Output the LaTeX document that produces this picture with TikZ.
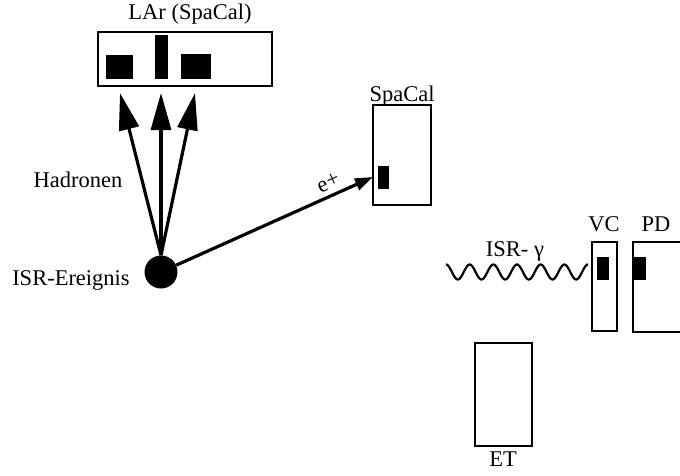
\documentclass[tikz,border=0pt]{standalone}
\usepackage{fontspec}
\setmainfont{Liberation Serif}
\usetikzlibrary{arrows.meta}
\begin{document}
\begin{tikzpicture}[x=1pt,y=-1pt,
  lbl/.style={font=\fontsize{22.5}{26}\selectfont, inner sep=0pt, anchor=base},
  box/.style={draw, line width=1.6pt, rectangle, inner sep=0pt},
  blk/.style={fill=black, rectangle, inner sep=0pt},
  bigarrow/.style={line width=3.2pt, -{Triangle[length=37pt,width=20pt]}},
  smallarrow/.style={line width=3.2pt, -{Triangle[length=18pt,width=12pt]}}]
\useasboundingbox (0,0) rectangle (680,475);
\clip (0,0) rectangle (680,475);
% LAr
\node[box, minimum width=174pt, minimum height=54pt] (lar) at (185,59) {};
\node[blk, minimum width=27pt, minimum height=24pt] (l1) at (119.5,67) {};
\node[blk, minimum width=13pt, minimum height=44pt] (l2) at (161.5,57) {};
\node[blk, minimum width=30pt, minimum height=25pt] (l3) at (196,66.5) {};
\node[lbl] (lart) at (190,19) {LAr (SpaCal)};
% event
\node[circle, fill=black, minimum size=33pt, inner sep=0pt] (ev) at (161,272) {};
\node[lbl] (evt) at (71,285) {ISR-Ereignis};
\node[lbl] (had) at (78,187) {Hadronen};
\coordinate (t1) at (120,93);
\coordinate (t2) at (161,93);
\coordinate (t3) at (195,93);
\draw[bigarrow] (ev.north) -- (t1);
\draw[bigarrow] (ev.north) -- (t2);
\draw[bigarrow] (ev.north) -- (t3);
% SpaCal
\node[box, minimum width=58pt, minimum height=100pt] (sp) at (402,155) {};
\node[blk, minimum width=11pt, minimum height=23pt] (spb) at (383.5,177.5) {};
\node[lbl] (spt) at (402,101) {SpaCal};
\coordinate (te) at (373,177);
\draw[smallarrow] (ev) -- node[pos=0.8, sloped, above=5pt, font=\fontsize{22.5}{26}\selectfont, inner sep=0pt] {e+} (te);
% photon
\draw[line width=2.2pt] plot[domain=446:588, samples=160, smooth] (\x, {272-7.5*cos((\x-446)*15.21)});
\node[lbl] (gt) at (515,256) {ISR- γ};
% VC
\node[box, minimum width=25pt, minimum height=89pt] (vc) at (604.5,286.5) {};
\node[blk, minimum width=12pt, minimum height=23pt] (vcb) at (603,268.5) {};
\node[lbl] (vct) at (604,231) {VC};
% PD
\draw[line width=1.6pt] (690,242) -- (633,242) -- (633,332) -- (690,332);
\node[blk, minimum width=13pt, minimum height=23pt] (pdb) at (639.5,268.5) {};
\node[lbl] (pdt) at (656,231) {PD};
% ET
\node[box, minimum width=57pt, minimum height=103pt] (et) at (503.5,394.5) {};
\node[lbl] (ett) at (503,466) {ET};
\end{tikzpicture}
\end{document}
